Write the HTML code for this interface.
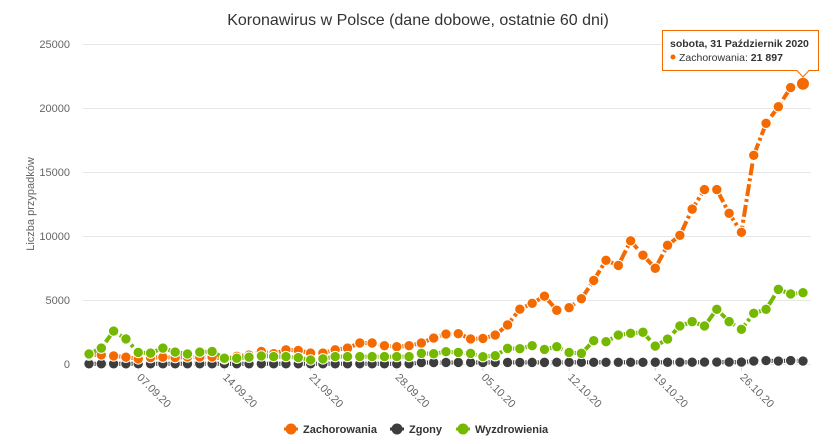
<!DOCTYPE html>
<html><head><meta charset="utf-8"><style>
body{margin:0;background:#fff;}
svg{display:block;font-family:"Liberation Sans",sans-serif;}
</style></head><body>
<svg id="s" width="836" height="444" xmlns="http://www.w3.org/2000/svg">
<text x="418" y="25" text-anchor="middle" font-size="16" fill="#333">Koronawirus w Polsce (dane dobowe, ostatnie 60 dni)</text>
<g stroke="#e6e6e6" stroke-width="1">
<line x1="83" x2="811" y1="44.5" y2="44.5"/><line x1="83" x2="811" y1="108.5" y2="108.5"/><line x1="83" x2="811" y1="172.5" y2="172.5"/><line x1="83" x2="811" y1="236.5" y2="236.5"/><line x1="83" x2="811" y1="300.5" y2="300.5"/><line x1="83" x2="811" y1="364.5" y2="364.5"/>
</g>
<g font-size="11" fill="#666" text-anchor="end">
<text x="70" y="48">25000</text><text x="70" y="112">20000</text><text x="70" y="176">15000</text><text x="70" y="240">10000</text><text x="70" y="304">5000</text><text x="70" y="368">0</text>
</g>
<text transform="translate(34,204) rotate(-90)" text-anchor="middle" font-size="11" fill="#666">Liczba przypadków</text>
<g id="ticks"></g>
<g id="series"></g>
<g>
<path d="M662.5 30.5 H818.5 V70.5 H809 L803 77 L797 70.5 H662.5 Z" fill="#fff" fill-opacity="0.95" stroke="#f56a00" stroke-width="1"/>
<text x="670" y="47" font-size="10.5" font-weight="bold" fill="#333">sobota, 31 Październik 2020</text>
<circle cx="673" cy="57" r="2.5" fill="#f56a00"/>
<text x="679" y="61" font-size="10.5" fill="#333">Zachorowania: <tspan font-weight="bold">21 897</tspan></text>
</g>
<g font-size="11" font-weight="bold" fill="#333">
<line x1="284" x2="298" y1="429" y2="429" stroke="#f56a00" stroke-width="3" stroke-dasharray="6,2,2,2"/><circle cx="291" cy="429" r="5.5" fill="#f56a00"/><text x="303" y="433">Zachorowania</text>
<line x1="390" x2="404" y1="429" y2="429" stroke="#3d3d3d" stroke-width="3" stroke-dasharray="6,2,2,2"/><circle cx="397" cy="429" r="5.5" fill="#3d3d3d"/><text x="409" y="433">Zgony</text>
<line x1="456" x2="470" y1="429" y2="429" stroke="#74b800" stroke-width="3" stroke-dasharray="6,2,2,2"/><circle cx="463" cy="429" r="5.5" fill="#74b800"/><text x="475" y="433">Wyzdrowienia</text>
</g>
</svg>
<script>
var NS="http://www.w3.org/2000/svg";
var orange=[700,710,630,530,400,500,530,500,550,550,550,400,600,700,980,800,1110,1060,850,850,1110,1240,1640,1640,1430,1350,1430,
1640,2030,2340,2370,1960,2000,2260,3050,4280,4740,5300,4200,4400,5100,6530,8100,7700,9620,8500,7480,9270,10050,12100,13630,13630,11770,10290,16300,18800,20100,21600,21897];
var green=[790,1240,2570,1960,900,850,1240,930,790,930,980,450,450,530,630,580,580,500,320,400,580,580,580,580,580,580,580,
830,800,960,900,830,570,650,1220,1200,1430,1140,1350,900,830,1820,1740,2260,2400,2480,1400,1950,2970,3310,2970,4270,3310,2710,3960,4270,5830,5470,5570];
var black=[];for(var i=0;i<59;i++){black.push(i<27?15:(i<50?90+i:(i<54?150:230+ (i%2)*40)));}
function X(i){return 89+i*12.31;}function Y(v){return 364-v*0.0128;}
var g=document.getElementById("series");
function draw(d,c){var p="";d.forEach(function(v,i){p+=(i?"L":"M")+X(i).toFixed(1)+" "+Y(v).toFixed(1);});
var pa=document.createElementNS(NS,"path");pa.setAttribute("d",p);pa.setAttribute("fill","none");pa.setAttribute("stroke",c);pa.setAttribute("stroke-width","4");pa.setAttribute("stroke-dasharray","12,3,3,3");g.appendChild(pa);
d.forEach(function(v,i){var ci=document.createElementNS(NS,"circle");ci.setAttribute("cx",X(i));ci.setAttribute("cy",Y(v));ci.setAttribute("r",i==58&&c=="#f56a00"?6.5:5.2);ci.setAttribute("fill",c);ci.setAttribute("stroke","#fff");ci.setAttribute("stroke-width","1");g.appendChild(ci);});}
draw(black,"#3d3d3d");draw(orange,"#f56a00");draw(green,"#74b800");
var t=document.getElementById("ticks");var labs=["07.09.20","14.09.20","21.09.20","28.09.20","05.10.20","12.10.20","19.10.20","26.10.20"];
labs.forEach(function(l,k){var x=X(4+7*k);var ln=document.createElementNS(NS,"line");ln.setAttribute("x1",x);ln.setAttribute("x2",x);ln.setAttribute("y1",365);ln.setAttribute("y2",371);ln.setAttribute("stroke","#ccd6eb");t.appendChild(ln);
var tx=document.createElementNS(NS,"text");tx.setAttribute("transform","translate("+(x-2)+",378) rotate(45)");tx.setAttribute("font-size","11");tx.setAttribute("fill","#666");tx.textContent=l;t.appendChild(tx);});
</script>
</body></html>
